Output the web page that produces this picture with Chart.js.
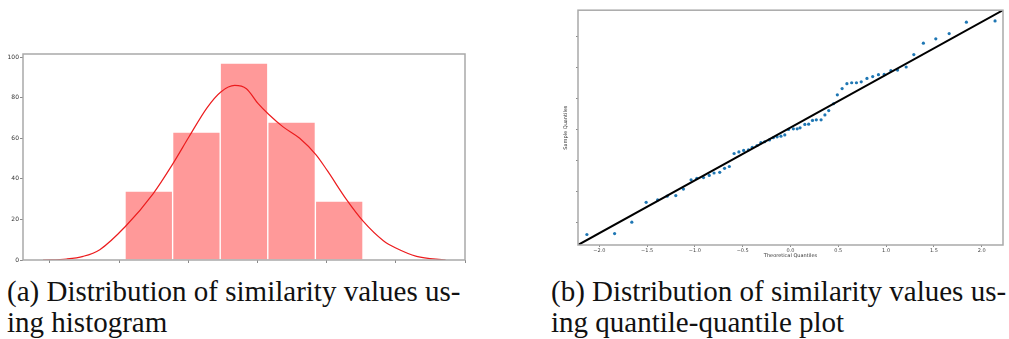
<!DOCTYPE html>
<html>
<head>
<meta charset="utf-8">
<script src="https://cdn.jsdelivr.net/npm/chart.js@4.4.1/dist/chart.umd.min.js"></script>
<style>
  html, body { margin: 0; padding: 0; background: #fff; }
  body { width: 1009px; height: 339px; position: relative; overflow: hidden; }
  canvas { position: absolute; }
  #histChart { left: 0; top: 44px; }
  #qqChart { left: 540px; top: 0; }
  .caption {
    position: absolute;
    font-family: "Liberation Serif", "Times New Roman", serif;
    font-size: 29px;
    line-height: 31px;
    color: #111;
    white-space: nowrap;
  }
  #capA { left: 7px; top: 276px; }
  #capB { left: 551px; top: 276px; }
</style>
</head>
<body>
<canvas id="histChart" width="480" height="226"></canvas>
<canvas id="qqChart" width="469" height="270"></canvas>
<div class="caption" id="capA">(a) Distribution of similarity values us-<br>ing histogram</div>
<div class="caption" id="capB">(b) Distribution of similarity values us-<br>ing quantile-quantile plot</div>

<script>
// histogram (a)
const histYTicks = [0, 20, 40, 60, 80, 100];
const histXTicks = [0, 1, 2, 3, 4, 5, 6];
const binEdges = [1.085, 1.773, 2.461, 3.149, 3.837, 4.525];
const binCounts = [34, 63, 97, 68, 29];
const kdeX = [-0.10, 0.24, 0.48, 0.72, 1.09, 1.49, 1.78, 2.01, 2.27, 2.47, 2.67, 2.84, 3.01, 3.16, 3.37, 3.61, 3.85, 4.01, 4.29, 4.53, 4.82, 5.00, 5.30, 5.72];
const kdeY = [0, 0.5, 1.8, 5.1, 16.5, 32.6, 47.6, 60.7, 75.0, 82.8, 86.0, 84.4, 77.0, 71.8, 65.6, 60.0, 51.7, 44.0, 29.6, 19.0, 9.5, 5.9, 1.8, 0];

// q-q plot (b)
const qqXTicks = [-2.0, -1.5, -1.0, -0.5, 0.0, 0.5, 1.0, 1.5, 2.0];
const qqYTicks = [0, 1, 2, 3, 4, 5, 6];
const qqTheoretical = [-2.13, -1.84, -1.66, -1.51, -1.39, -1.29, -1.20, -1.12, -1.04, -0.98,
  -0.91, -0.85, -0.80, -0.74, -0.69, -0.64, -0.59, -0.54, -0.49, -0.44,
  -0.40, -0.35, -0.31, -0.27, -0.22, -0.18, -0.14, -0.10, -0.06, -0.02,
  0.03, 0.07, 0.10, 0.15, 0.19, 0.23, 0.27, 0.32, 0.36, 0.40,
  0.45, 0.49, 0.54, 0.59, 0.64, 0.69, 0.74, 0.80, 0.86, 0.92,
  0.98, 1.05, 1.12, 1.21, 1.29, 1.39, 1.52, 1.66, 1.84, 2.14];
const qqSample = [-0.40, -0.37, 0.00, 0.64, 0.72, 0.84, 0.86, 1.07, 1.37, 1.42,
  1.44, 1.51, 1.59, 1.61, 1.74, 1.80, 2.22, 2.27, 2.32, 2.34,
  2.42, 2.48, 2.57, 2.60, 2.66, 2.73, 2.76, 2.78, 2.82, 3.00,
  3.02, 3.02, 3.05, 3.16, 3.17, 3.29, 3.31, 3.31, 3.47, 3.61,
  3.83, 4.12, 4.32, 4.48, 4.51, 4.51, 4.54, 4.65, 4.71, 4.77,
  4.78, 4.90, 4.92, 5.02, 5.42, 5.79, 5.93, 6.10, 6.47, 6.51];
const refLineX = [-2.223, 2.223];
const refLineY = [-0.74, 6.857];

const SPINE = '#a9a9a9';
const TICK = '#8a8a8a';

// matplotlib-style box around the plot area
const framePlugin = {
  id: 'frame',
  afterDatasetsDraw(chart) {
    const { ctx, chartArea: a } = chart;
    ctx.save();
    ctx.strokeStyle = SPINE;
    ctx.lineWidth = 1.5;
    ctx.strokeRect(a.left, a.top, a.right - a.left, a.bottom - a.top);
    ctx.restore();
  }
};

function fixedTicks(values) {
  return scale => { scale.ticks = values.map(v => ({ value: v })); };
}

const binCenters = binCounts.map((_, i) => (binEdges[i] + binEdges[i + 1]) / 2);

new Chart(document.getElementById('histChart'), {
  type: 'bar',
  data: {
    datasets: [{
      type: 'line',
      data: kdeX.map((x, i) => ({ x: x, y: kdeY[i] })),
      borderColor: 'rgb(236, 28, 30)',
      borderWidth: 1.2,
      pointRadius: 0,
      cubicInterpolationMode: 'monotone',
      fill: false,
      order: 0
    }, {
      type: 'bar',
      data: binCenters.map((x, i) => ({ x: x, y: binCounts[i] })),
      backgroundColor: 'rgba(255, 0, 0, 0.4)',
      borderColor: '#ffffff',
      borderWidth: 1,
      barPercentage: 1,
      categoryPercentage: 1,
      order: 1
    }]
  },
  options: {
    responsive: false,
    animation: false,
    layout: { padding: { left: 0, right: 15, top: 10, bottom: 0 } },
    plugins: { legend: { display: false }, tooltip: { enabled: false } },
    scales: {
      x: {
        type: 'linear',
        offset: false,
        min: -0.39,
        max: 6.0,
        afterBuildTicks: fixedTicks(histXTicks),
        ticks: { callback: () => '' },
        grid: { offset: false, drawOnChartArea: false, tickLength: 3, color: TICK },
        border: { display: false },
        afterFit: s => { s.height = 10; }
      },
      y: {
        min: 0,
        max: 101.5,
        afterBuildTicks: fixedTicks(histYTicks),
        ticks: { color: '#333', font: { family: 'DejaVu Sans', size: 6 }, padding: 1 },
        grid: { drawOnChartArea: false, tickLength: 3, color: TICK },
        border: { display: false },
        afterFit: s => { s.width = 23; }
      }
    }
  },
  plugins: [framePlugin]
});

new Chart(document.getElementById('qqChart'), {
  type: 'scatter',
  data: {
    datasets: [{
      data: refLineX.map((x, i) => ({ x: x, y: refLineY[i] })),
      showLine: true,
      borderColor: '#000',
      borderWidth: 2,
      pointRadius: 0,
      order: 0
    }, {
      data: qqTheoretical.map((x, i) => ({ x: x, y: qqSample[i] })),
      backgroundColor: '#1f77b4',
      borderWidth: 0,
      pointRadius: 1.6,
      order: 1
    }]
  },
  options: {
    responsive: false,
    animation: false,
    layout: { padding: { left: 0, right: 6, top: 7, bottom: 0 } },
    plugins: { legend: { display: false }, tooltip: { enabled: false } },
    scales: {
      x: {
        type: 'linear',
        min: -2.223,
        max: 2.223,
        afterBuildTicks: fixedTicks(qqXTicks),
        ticks: {
          color: '#444',
          font: { family: 'DejaVu Sans', size: 5 },
          padding: 1,
          maxRotation: 0,
          callback: v => (v < 0 ? '\u2212' : '') + Math.abs(v).toFixed(1)
        },
        grid: { drawOnChartArea: false, tickLength: 2, color: TICK },
        border: { display: false },
        title: {
          display: true,
          text: 'Theoretical Quantiles',
          color: '#333',
          font: { family: 'DejaVu Sans', size: 5 },
          padding: { top: 0, bottom: 11 }
        },
        afterFit: s => { s.height = 25; }
      },
      y: {
        min: -0.74,
        max: 6.857,
        afterBuildTicks: fixedTicks(qqYTicks),
        ticks: { callback: () => '' },
        grid: { drawOnChartArea: false, tickLength: 2, color: TICK },
        border: { display: false },
        title: {
          display: true,
          text: 'Sample Quantiles',
          color: '#333',
          font: { family: 'DejaVu Sans', size: 5 },
          padding: { top: 23, bottom: 0 }
        },
        afterFit: s => { s.width = 38; }
      }
    }
  },
  plugins: [framePlugin]
});
</script>
</body>
</html>
